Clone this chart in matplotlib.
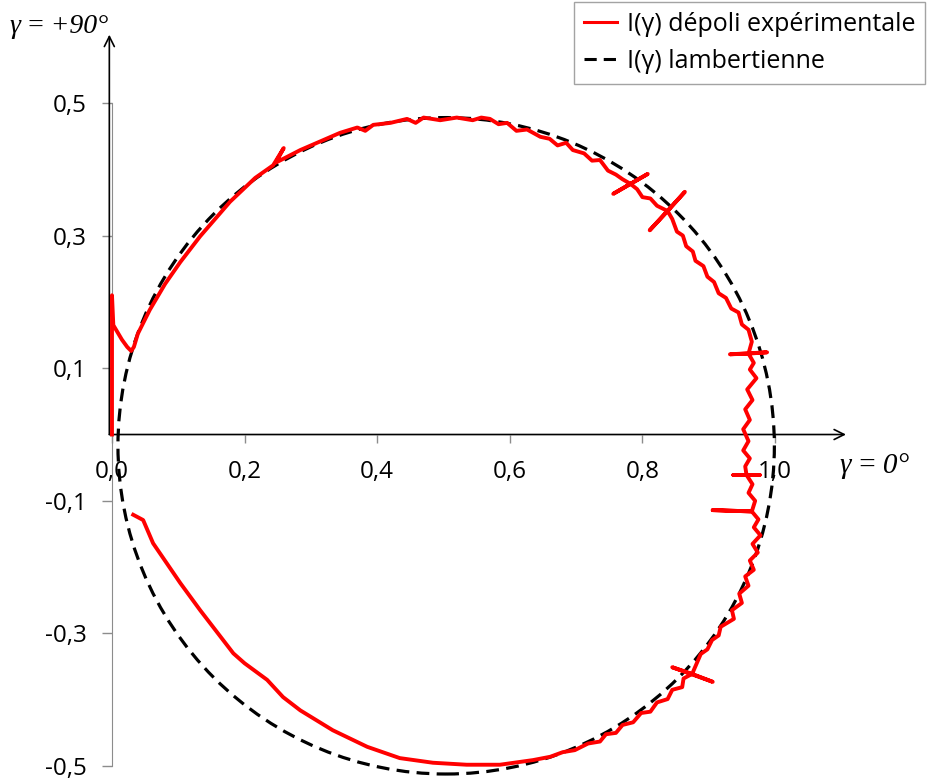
import matplotlib
matplotlib.use('Agg')
import matplotlib.pyplot as plt
from matplotlib.lines import Line2D
from matplotlib.patches import Circle

# experimental curve I(gamma) read off the picture, in pieces from gamma=+90 to -90
# (x = I cos g, y = I sin g)
upper_left_x = [0.000, 0.000, 0.002, 0.009, 0.015, 0.023, 0.029, 0.033, 0.039, 0.057,
                0.080, 0.103, 0.133, 0.178, 0.216, 0.243, 0.259, 0.247, 0.284, 0.344]
upper_left_y = [0.000, 0.210, 0.165, 0.153, 0.143, 0.132, 0.126, 0.132, 0.152, 0.188,
                0.227, 0.260, 0.299, 0.351, 0.387, 0.406, 0.432, 0.410, 0.429, 0.455]

top_x = [0.370, 0.382, 0.394, 0.420, 0.445, 0.458, 0.470, 0.495, 0.520, 0.544, 0.557, 0.570]
top_y = [0.463, 0.458, 0.467, 0.470, 0.476, 0.470, 0.478, 0.474, 0.478, 0.474, 0.478, 0.476]

upper_right_x = [0.583, 0.596, 0.610, 0.626, 0.646, 0.660, 0.672, 0.685, 0.695, 0.712,
                 0.724, 0.736, 0.748, 0.760, 0.770, 0.782, 0.756, 0.808, 0.782, 0.792,
                 0.800, 0.812, 0.822, 0.838, 0.811, 0.864, 0.838, 0.845, 0.852, 0.861,
                 0.866, 0.876, 0.880, 0.892, 0.898, 0.908, 0.915, 0.926, 0.934, 0.945,
                 0.950, 0.960, 0.965]
upper_right_y = [0.468, 0.470, 0.458, 0.460, 0.449, 0.446, 0.436, 0.440, 0.429, 0.424,
                 0.413, 0.414, 0.398, 0.392, 0.385, 0.378, 0.363, 0.393, 0.378, 0.370,
                 0.358, 0.356, 0.345, 0.337, 0.308, 0.366, 0.337, 0.325, 0.306, 0.300,
                 0.284, 0.276, 0.262, 0.254, 0.238, 0.230, 0.213, 0.206, 0.190, 0.184,
                 0.166, 0.158, 0.140]

right_x = [0.960, 0.932, 0.988, 0.960, 0.968, 0.962, 0.972, 0.958, 0.966, 0.955,
           0.962, 0.952, 0.960, 0.952, 0.962, 0.955, 0.957, 0.937, 0.977, 0.957,
           0.966, 0.960, 0.970, 0.965, 0.906, 0.965, 0.975, 0.968, 0.978, 0.966,
           0.974, 0.962, 0.968, 0.955, 0.960, 0.946, 0.950, 0.935, 0.938, 0.918,
           0.915, 0.905, 0.898, 0.888, 0.882]
right_y = [0.122, 0.121, 0.124, 0.122, 0.108, 0.098, 0.085, 0.068, 0.052, 0.038,
           0.022, 0.008, -0.010, -0.024, -0.036, -0.048, -0.061, -0.061, -0.061, -0.061,
           -0.075, -0.088, -0.100, -0.116, -0.114, -0.116, -0.128, -0.140, -0.152, -0.165,
           -0.178, -0.190, -0.204, -0.214, -0.228, -0.240, -0.254, -0.265, -0.278, -0.290,
           -0.303, -0.310, -0.324, -0.331, -0.345]

lower_right_x = [0.875, 0.845, 0.906, 0.875, 0.862, 0.860, 0.845, 0.838, 0.822, 0.812,
                 0.798, 0.786, 0.770, 0.760, 0.745, 0.736, 0.718, 0.698, 0.680, 0.661]
lower_right_y = [-0.361, -0.351, -0.373, -0.361, -0.368, -0.381, -0.385, -0.399, -0.404, -0.418,
                 -0.420, -0.434, -0.438, -0.450, -0.452, -0.463, -0.466, -0.476, -0.479, -0.486]

bottom_x = [0.635, 0.585, 0.535, 0.484, 0.434, 0.385, 0.333, 0.284, 0.258, 0.234,
            0.200, 0.183, 0.133, 0.103, 0.062, 0.047, 0.032]
bottom_y = [-0.491, -0.498, -0.498, -0.495, -0.488, -0.471, -0.446, -0.416, -0.396, -0.370,
            -0.345, -0.330, -0.265, -0.224, -0.164, -0.129, -0.121]

# lambertian reference: a circle in this polar representation
lamb_center = (0.504, -0.017)
lamb_radius = 0.495

xticks = [0.0, 0.2, 0.4, 0.6, 0.8, 1.0]
xlabels = ['0,0', '0,2', '0,4', '0,6', '0,8', '1,0']
yticks = [-0.5, -0.3, -0.1, 0.1, 0.3, 0.5]
ylabels = ['-0,5', '-0,3', '-0,1', '0,1', '0,3', '0,5']
legend_labels = ['I(γ) dépoli expérimentale', 'I(γ) lambertienne']

exp_x = upper_left_x + top_x + upper_right_x + right_x + lower_right_x + bottom_x
exp_y = upper_left_y + top_y + upper_right_y + right_y + lower_right_y + bottom_y

plt.rcParams['font.family'] = ['Open Sans', 'DejaVu Sans']

fig = plt.figure(figsize=(9.27, 7.83), dpi=100)
ax = fig.add_axes([0.1065, 0.0047, 0.8154, 0.9654])
ax.set_xlim(-0.02, 1.12)
ax.set_ylim(-0.52, 0.62)

grey = '#8c8c8c'
for s in ['top', 'right']:
    ax.spines[s].set_visible(False)
ax.spines['left'].set_position(('data', 0))
ax.spines['left'].set_bounds(-0.5, 0.5)
ax.spines['left'].set_color(grey)
ax.spines['bottom'].set_position(('data', 0))
ax.spines['bottom'].set_visible(False)

ax.set_xticks(xticks)
ax.set_xticklabels(xlabels)
ax.set_yticks(yticks)
ax.set_yticklabels(ylabels)
ax.tick_params(axis='both', direction='out', color=grey, labelcolor='black',
               labelsize=17.5, width=1)
ax.tick_params(axis='x', length=6, pad=12)
ax.tick_params(axis='y', length=7, pad=11)

# black axis arrows
arrow = dict(arrowstyle='->', color='black', lw=1.2, mutation_scale=18, shrinkA=0, shrinkB=0)
ax.annotate('', xy=(1.107, 0), xytext=(-0.004, 0), arrowprops=arrow)
ax.annotate('', xy=(-0.004, 0.603), xytext=(-0.004, 0), arrowprops=arrow)

dash = (0, (4, 2.3))
lamb = Circle(lamb_center, lamb_radius, fill=False, edgecolor='black', lw=2.3,
              ls=dash, zorder=3)
ax.add_patch(lamb)
ax.plot(exp_x, exp_y, color='red', lw=2.8, zorder=4, solid_joinstyle='round')

ax.text(-0.006, 0.615, 'γ\u2009=\u2009+90°', ha='right', va='center', fontsize=20,
        family='Liberation Serif', style='italic')
ax.text(1.098, -0.048, 'γ\u2009=\u20090°', ha='left', va='center', fontsize=21,
        family='Liberation Serif', style='italic')

handles = [Line2D([], [], color='red', lw=2.2),
           Line2D([], [], color='black', lw=2.2, ls=dash)]
leg = fig.legend(handles, legend_labels, loc='upper right',
                 bbox_to_anchor=(0.998, 0.998), fontsize=18,
                 frameon=True, fancybox=False, edgecolor=grey, handlelength=1.3,
                 handletextpad=0.4, borderpad=0.4, labelspacing=0.5,
                 borderaxespad=0)
leg.get_frame().set_linewidth(1)

plt.savefig('out.png', dpi=100)
